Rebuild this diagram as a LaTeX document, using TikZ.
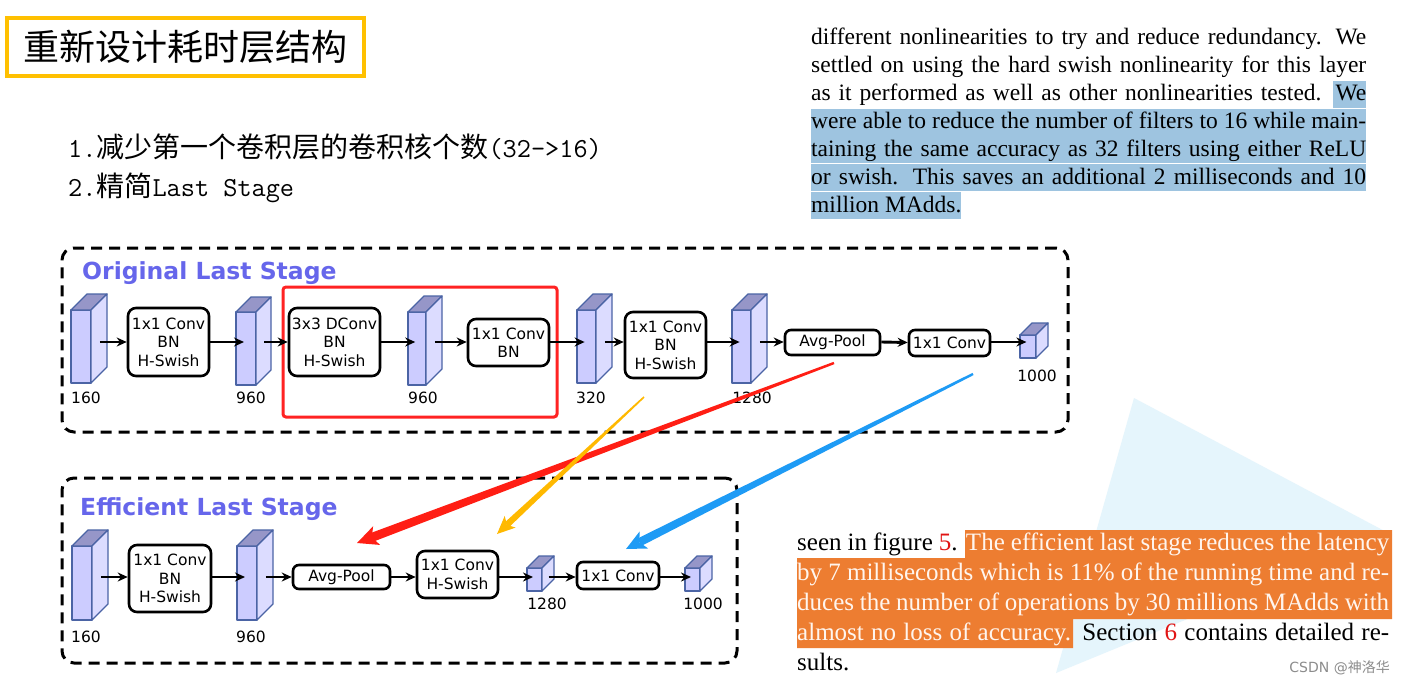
\documentclass[tikz,border=0pt]{standalone}
\usepackage{fontspec}
\setmainfont{Liberation Serif}
\newfontfamily\cjk{Noto Sans CJK SC}
\newfontfamily\dv{DejaVu Sans}
\usetikzlibrary{arrows.meta,calc}

\definecolor{tfront}{RGB}{204,204,255}
\definecolor{tside}{RGB}{220,220,255}
\definecolor{ttop}{RGB}{150,150,200}
\definecolor{tedgec}{RGB}{75,100,165}
\definecolor{stagec}{RGB}{102,102,235}
\definecolor{hlblue}{RGB}{158,196,224}
\definecolor{hlorange}{RGB}{237,125,49}
\definecolor{titleyel}{RGB}{255,192,0}
\definecolor{redarr}{RGB}{255,30,20}
\definecolor{yelarr}{RGB}{255,185,0}
\definecolor{bluearr}{RGB}{30,155,245}
\definecolor{tric}{RGB}{229,245,252}
\definecolor{refred}{RGB}{225,20,20}
\definecolor{hltext}{RGB}{255,245,238}
\definecolor{redbox}{RGB}{255,35,35}

% tensor: name, x, y (front top-left), w, h, depth, arrow-y
\newcommand\tens[7]{%
  \draw[tedge, fill=tfront] (#2,#3) rectangle ++(#4,#5);
  \draw[tedge, fill=ttop] (#2,#3) -- ++(#6,-#6) -- ++(#4,0) -- ++(-#6,#6) -- cycle;
  \draw[tedge, fill=tside] ($(#2,#3)+(#4,0)$) -- ++(#6,-#6) -- ++(0,#5) -- ++(-#6,#6) -- cycle;
  \coordinate (#1-in) at ($(#2,#7)+(0.4*#4,0)$);
  \coordinate (#1-out) at ($(#2,#7)+(#4+0.55*#6,0)$);
}
% tapered arrow: colour, start, end, start half-width, end half-width, head half-width, head length
\newcommand\bigarrow[7]{%
  \coordinate (#2-H) at ($(#3)!#7!(#2)$);
  \coordinate (#2-N) at ($(#3)!0.75*#7!(#2)$);
  \fill[#1] ($(#2)!#4!90:(#3)$) -- ($(#2-N)!#5!-90:(#2)$) -- ($(#2-N)!#5!90:(#2)$) -- ($(#2)!#4!-90:(#3)$) -- cycle;
  \fill[#1] (#3) -- ($(#2-H)!#6!-90:(#2)$) -- (#2-N) -- ($(#2-H)!#6!90:(#2)$) -- cycle;
}

\begin{document}
\begin{tikzpicture}[x=1pt,y=-1pt,
  tedge/.style={draw=tedgec, line width=1.3pt, line join=round},
  conn/.style={line width=2.9pt, -{Stealth[length=10pt,width=9pt]}},
  blk/.style={draw, line width=2.6pt, rounded corners=8pt, fill=white, align=center, inner sep=0pt, font=\dv\fontsize{15.5}{18.5}\selectfont},
  lab/.style={inner sep=0pt, font=\dv\fontsize{15.5}{18}\selectfont},
  frame/.style={draw, line width=3pt, dash pattern=on 11pt off 7pt, rounded corners=12pt, inner sep=0pt},
  stagetitle/.style={anchor=west, inner sep=0pt, text=stagec, font=\dv\bfseries\fontsize{23.5}{26}\selectfont},
  ptop/.style={anchor=base west, inner sep=0pt, font=\fontsize{23.5}{28}\selectfont},
  pbot/.style={anchor=base west, inner sep=0pt, font=\fontsize{25}{30}\selectfont},
  lst/.style={anchor=base west, inner sep=0pt}
]
\useasboundingbox (0,0) rectangle (1404,685);
\fill[white] (0,0) rectangle (1404,685);

% light triangle
\fill[tric] (1134,398) -- (1392,535) -- (1056,673) -- cycle;

% title
\node[draw=titleyel, line width=3.5pt, minimum width=357pt, minimum height=58pt, inner sep=0pt] (title) at (185.5,47)
  {\cjk\fontsize{36}{40}\selectfont 重新设计耗时层结构};

% list
\node[lst] (l1) at (68,157) {{\ttfamily\fontsize{27.5}{30}\selectfont 1.}{\cjk\fontsize{28}{30}\selectfont 减少第一个卷积层的卷积核个数}{\ttfamily\fontsize{27.5}{30}\selectfont (32->16)}};
\node[lst] (l2) at (68,196) {{\ttfamily\fontsize{27.5}{30}\selectfont 2.}{\cjk\fontsize{28}{30}\selectfont 精简}{\ttfamily\fontsize{27.5}{30}\selectfont Last Stage}};

% top paragraph highlight
\fill[hlblue] (1333,80.7) rectangle (1366,107.7);
\fill[hlblue] (811,108.5) rectangle (1366,135.5);
\fill[hlblue] (811,136.3) rectangle (1366,163.3);
\fill[hlblue] (811,164.2) rectangle (1366,191.2);
\fill[hlblue] (811,192) rectangle (961,219);

\node[ptop] (p1) at (811,45) {\makebox[555pt][s]{different nonlinearities to try and reduce redundancy. We}};
\node[ptop] (p2) at (811,72.8) {\makebox[555pt][s]{settled on using the hard swish nonlinearity for this layer}};
\node[ptop] (p3) at (811,100.7) {\makebox[555pt][s]{as it performed as well as other nonlinearities tested. We}};
\node[ptop] (p4) at (811,128.5) {\makebox[555pt][s]{were able to reduce the number of filters to 16 while main-}};
\node[ptop] (p5) at (811,156.3) {\makebox[555pt][s]{taining the same accuracy as 32 filters using either ReLU}};
\node[ptop] (p6) at (811,184.2) {\makebox[555pt][s]{or swish. This saves an additional 2 milliseconds and 10}};
\node[ptop] (p7) at (811,212) {million MAdds.};

% bottom paragraph highlight
\fill[hlorange] (965,530) -- (1392,530) -- (1392,619) -- (1073,619) -- (1073,648) -- (797,648) -- (797,558) -- (965,558) -- cycle;
\node[pbot] (q1) at (797,550) {\makebox[592pt][s]{seen in figure {\color{refred}5}. \color{hltext}The efficient last stage reduces the latency}};
\node[pbot, text=hltext] (q2) at (797,580) {\makebox[592pt][s]{by 7 milliseconds which is 11\% of the running time and re-}};
\node[pbot, text=hltext] (q3) at (797,610) {\makebox[592pt][s]{duces the number of operations by 30 millions MAdds with}};
\node[pbot] (q4) at (797,640) {\makebox[592pt][s]{{\color{hltext}almost no loss of accuracy.} Section {\color{refred}6} contains detailed re-}};
\node[pbot] (q5) at (797,670) {sults.};

% watermark
\node[anchor=east, inner sep=0pt, text=black!45] (wm) at (1390,668) {\fontsize{14}{16}\selectfont\dv CSDN @{\cjk 神洛华}};

% frames
\node[frame, minimum width=1006pt, minimum height=184pt] (f1) at (565,340) {};
\node[frame, minimum width=675pt, minimum height=185pt] (f2) at (399.5,570.5) {};
\node[stagetitle] (s1) at (82,273) {Original Last Stage};
\node[stagetitle] (s2) at (80,509) {Efficient Last Stage};

% red highlight box
\node[draw=redbox, line width=3pt, rounded corners=3pt, minimum width=274pt, minimum height=130pt, inner sep=0pt] (hl) at (420,352) {};

% ---- original row ----
\tens{t1}{71}{310}{20}{73}{16}{342}
\tens{t2}{236}{312}{20}{73}{15}{342}
\tens{t3}{408}{312}{18}{73}{16}{342}
\tens{t4}{577}{310}{19}{73}{16}{342}
\tens{t5}{732}{310}{19}{73}{16}{342}
\tens{t6}{1020}{335}{16}{23}{12}{342}
\node[lab] (t1l) at (86,398) {160};
\node[lab] (t2l) at (251,398) {960};
\node[lab] (t3l) at (423,398) {960};
\node[lab] (t4l) at (591,398) {320};
\node[lab] (t5l) at (752,398) {1280};
\node[lab] (t6l) at (1037,376) {1000};

\node[blk, minimum width=81pt, minimum height=68pt] (b1) at (168.5,342) {1x1 Conv\\BN\\H-Swish};
\node[blk, minimum width=91pt, minimum height=68pt] (b2) at (334.5,342) {3x3 DConv\\BN\\H-Swish};
\node[blk, minimum width=81pt, minimum height=47pt] (b3) at (508.5,342.5) {1x1 Conv\\BN};
\node[blk, minimum width=81pt, minimum height=66pt] (b4) at (665.5,345) {1x1 Conv\\BN\\H-Swish};
\node[blk, minimum width=95pt, minimum height=25pt, rounded corners=6pt] (b5) at (832.5,342.5) {\raisebox{-3pt}{Avg-Pool}};
\node[blk, minimum width=81pt, minimum height=26pt, rounded corners=6pt] (b6) at (949.5,343) {1x1 Conv};

\draw[conn] (t1-out) -- (t1-out -| b1.west);
\draw[conn] (b1.east |- t2-in) -- (t2-in);
\draw[conn] (t2-out) -- (t2-out -| b2.west);
\draw[conn] (b2.east |- t3-in) -- (t3-in);
\draw[conn] (t3-out) -- (t3-out -| b3.west);
\draw[conn] (b3.east |- t4-in) -- (t4-in);
\draw[conn] (t4-out) -- (t4-out -| b4.west);
\draw[conn] (b4.east |- t5-in) -- (t5-in);
\draw[conn] (t5-out) -- (t5-out -| b5.west);
\draw[conn] (b5.east |- t5-out) -- (b5.east -| b6.west);
\draw[conn] (b6.east |- t6-in) -- (t6-in);

% ---- efficient row ----
\tens{t7}{72}{546}{20}{74}{16}{577}
\tens{t8}{237}{546}{20}{74}{16}{577}
\tens{t9}{527}{568}{15}{23}{12}{577}
\tens{t10}{685}{568}{15}{23}{12}{577}
\node[lab] (t7l) at (86,637) {160};
\node[lab] (t8l) at (251,637) {960};
\node[lab] (t9l) at (547,604) {1280};
\node[lab] (t10l) at (703,604) {1000};

\node[blk, minimum width=82pt, minimum height=67pt] (b7) at (170,578.5) {1x1 Conv\\BN\\H-Swish};
\node[blk, minimum width=97pt, minimum height=24pt, rounded corners=6pt] (b8) at (341.5,577) {\raisebox{-3pt}{Avg-Pool}};
\node[blk, minimum width=81pt, minimum height=47pt] (b9) at (457.5,574.5) {1x1 Conv\\H-Swish};
\node[blk, minimum width=82pt, minimum height=27pt, rounded corners=6pt] (b10) at (618,575.5) {1x1 Conv};

\draw[conn] (t7-out) -- (t7-out -| b7.west);
\draw[conn] (b7.east |- t8-in) -- (t8-in);
\draw[conn] (t8-out) -- (t8-out -| b8.west);
\draw[conn] (b8.east |- t8-out) -- (t8-out -| b9.west);
\draw[conn] (b9.east |- t9-in) -- (t9-in);
\draw[conn] (t9-out) -- (t9-out -| b10.west);
\draw[conn] (b10.east |- t10-in) -- (t10-in);

% ---- coloured pointer arrows ----
\coordinate (rs) at (834,363);
\coordinate (re) at (357,543);
\coordinate (ys) at (644,397);
\coordinate (ye) at (497,534);
\coordinate (bs) at (973,374);
\coordinate (be) at (626,549);
\bigarrow{redarr}{rs}{re}{1.2pt}{4.5pt}{10pt}{21pt}
\bigarrow{yelarr}{ys}{ye}{0.8pt}{3.2pt}{8pt}{18pt}
\bigarrow{bluearr}{bs}{be}{1.2pt}{4.2pt}{9.5pt}{20pt}
\end{tikzpicture}
\end{document}
